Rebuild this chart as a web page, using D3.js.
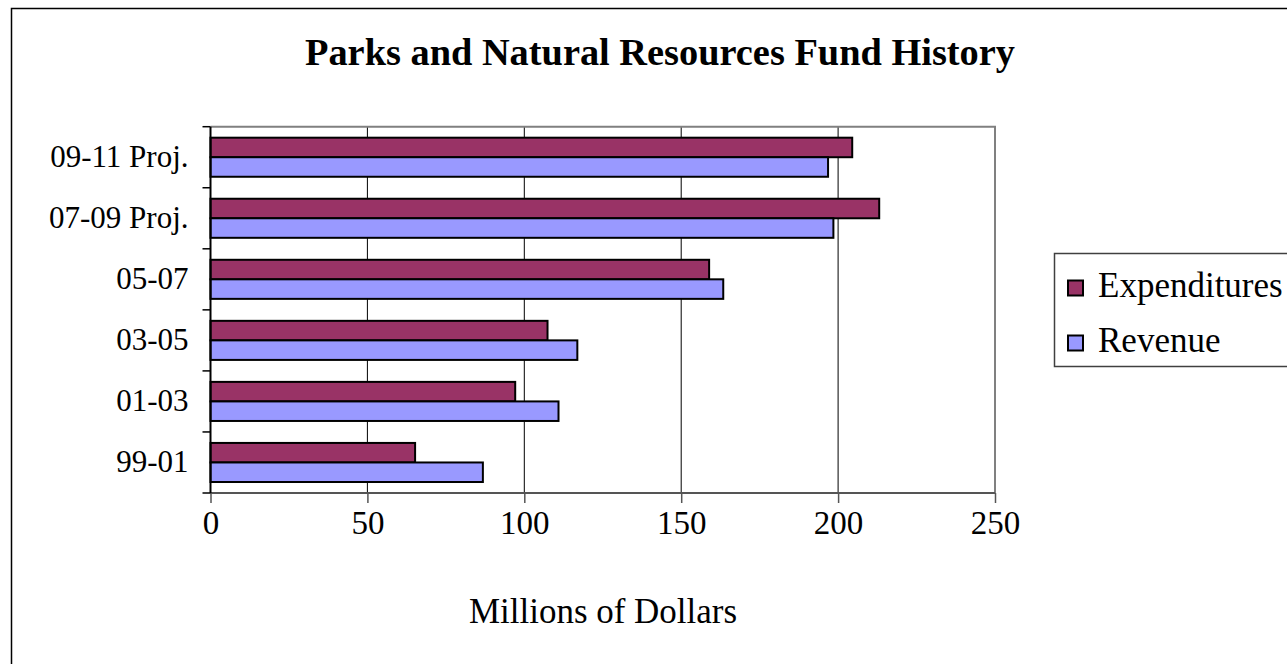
<!DOCTYPE html>
<html>
<head>
<meta charset="utf-8">
<script src="https://cdn.jsdelivr.net/npm/d3@7"></script>
<style>
html,body{margin:0;padding:0;background:#fff;}
svg{display:block;}
text{font-family:"Liberation Serif","Times New Roman",serif;fill:#000;}
</style>
</head>
<body>
<svg id="chart" width="1287" height="664"></svg>
<script>
const categories = ["09-11 Proj.", "07-09 Proj.", "05-07", "03-05", "01-03", "99-01"];
const series = ["Expenditures", "Revenue"];
const expenditures = [204.5, 213.1, 158.9, 107.4, 97.1, 65.2];
const revenue = [196.8, 198.5, 163.4, 116.9, 110.9, 86.8];
const xTicks = [0, 50, 100, 150, 200, 250];
const colors = ["#993366", "#9999FF"];

(function () {
const svg = d3.select("#chart");
const W = 1287, H = 664;
const pL = 210.5, pR = 995, pT = 126.7, pB = 493;

// outer frame
svg.append("path").attr("d", `M11.5,${H}V8.5H${W}`).attr("fill","none").attr("stroke","#000").attr("stroke-width",1.5);

const x = d3.scaleLinear().domain([0, 250]).range([pL, pR]);
const y = d3.scaleBand().domain(categories).range([pT, pB]).paddingInner(0.36).paddingOuter(0.18);
const ys = d3.scaleBand().domain(series).range([0, y.bandwidth()]);

// gridlines
svg.append("g").selectAll("line").data(xTicks.filter(d => d > 0 && d < 250)).join("line")
  .attr("x1", d => x(d)).attr("x2", d => x(d)).attr("y1", pT).attr("y2", pB)
  .attr("stroke", "#000").attr("stroke-width", 1);

// plot border top & right
svg.append("path").attr("d", `M${pL},${pT}H${pR}V${pB}`).attr("fill","none").attr("stroke","#808080").attr("stroke-width",2);

// bars
const data = categories.map((c, i) => ({c, vals: [expenditures[i], revenue[i]]}));
const g = svg.append("g");
data.forEach(d => {
  series.forEach((s, j) => {
    g.append("rect")
      .attr("x", x(0))
      .attr("y", y(d.c) + ys(s))
      .attr("width", x(d.vals[j]) - x(0))
      .attr("height", ys.bandwidth())
      .attr("fill", colors[j])
      .attr("stroke", "#000")
      .attr("stroke-width", 2);
  });
});

// x axis
const xAxis = svg.append("g").attr("transform", `translate(0,${pB})`)
  .call(d3.axisBottom(x).tickValues(xTicks).tickSize(10).tickPadding(8).tickFormat(d3.format("d")));
xAxis.select(".domain").attr("stroke", "#555").attr("stroke-width", 2).attr("d", `M${pL},0H${pR}`);
xAxis.selectAll(".tick line").attr("stroke", "#555").attr("stroke-width", 1.5);
xAxis.selectAll("text").attr("font-size", 33).attr("font-family", "Liberation Serif");

// y axis
const yAxis = svg.append("g").attr("transform", `translate(${pL},0)`)
  .call(d3.axisLeft(y).tickSize(0).tickPadding(22));
yAxis.select(".domain").attr("stroke", "#000").attr("stroke-width", 2).attr("d", `M0,${pT}V${pB}`);
yAxis.selectAll("text").attr("font-size", 31).attr("font-family", "Liberation Serif");
const bounds = categories.map(c => y(c) - y.step() * y.paddingInner() / 2).concat([pB]);
yAxis.append("g").selectAll("line").data(bounds).join("line")
  .attr("x1", -8).attr("x2", 0).attr("y1", d => d).attr("y2", d => d)
  .attr("stroke", "#000").attr("stroke-width", 1.5);

// title
svg.append("text").attr("x", 660).attr("y", 65).attr("text-anchor", "middle")
  .attr("font-size", 38).attr("font-weight", "bold")
  .attr("textLength", 710).attr("lengthAdjust", "spacingAndGlyphs")
  .text("Parks and Natural Resources Fund History");

// axis title
svg.append("text").attr("x", 603).attr("y", 623).attr("text-anchor", "middle")
  .attr("font-size", 35).attr("textLength", 268).attr("lengthAdjust", "spacingAndGlyphs")
  .text("Millions of Dollars");

// legend
svg.append("path").attr("d", `M${W},253.5H1054.5V366.5H${W}`).attr("fill","none").attr("stroke","#404040").attr("stroke-width",1.5);
const leg = svg.append("g");
series.forEach((s, i) => {
  const cy = 288 + i * 55;
  leg.append("rect").attr("x", 1068).attr("y", cy - 7.5).attr("width", 15).attr("height", 15)
    .attr("fill", colors[i]).attr("stroke", "#000").attr("stroke-width", 2);
  leg.append("text").attr("x", 1098).attr("y", cy + 9).attr("font-size", 35).text(s);
});
})();
</script>
</body>
</html>
